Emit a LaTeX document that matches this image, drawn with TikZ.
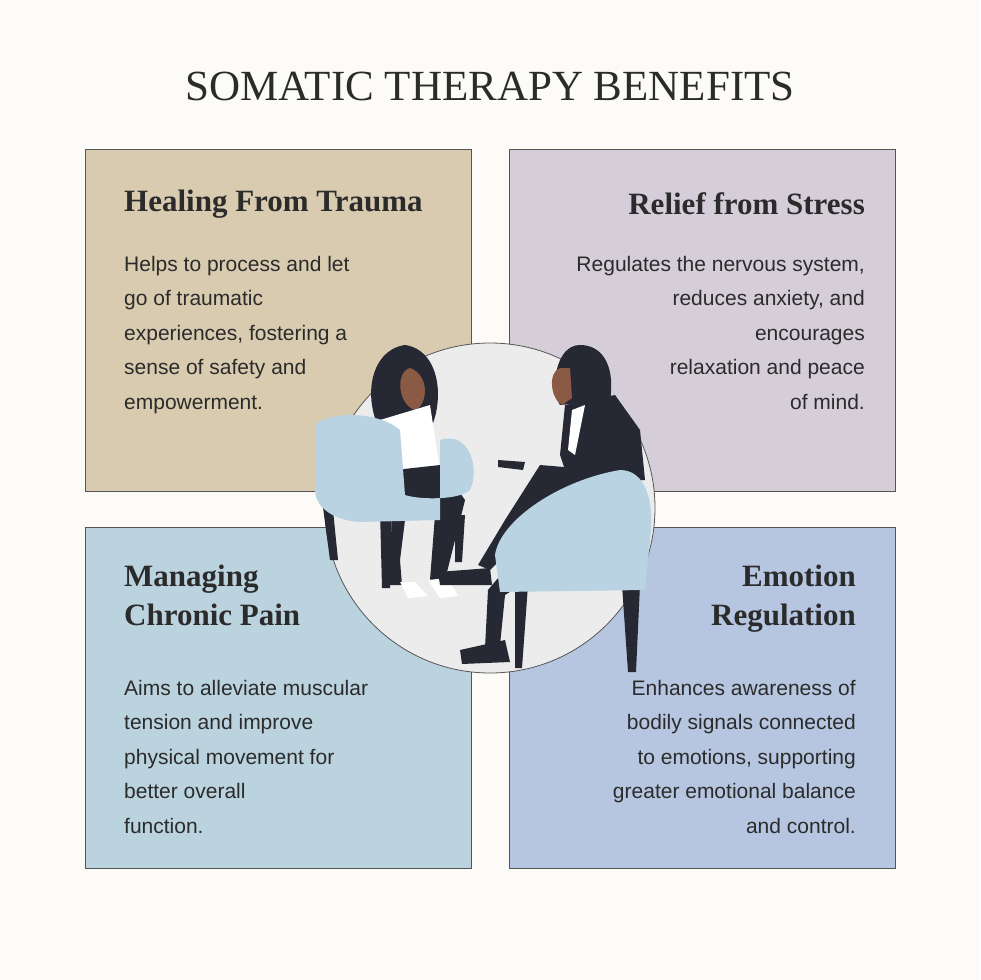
\documentclass[tikz,border=0pt]{standalone}
\usepackage{fontspec}
\setmainfont{Liberation Serif}
\newfontfamily\bodyfont{Liberation Sans}
\definecolor{bg}{HTML}{FCFBF8}
\definecolor{tan}{HTML}{D9CBB0}
\definecolor{lav}{HTML}{D5CED8}
\definecolor{sky}{HTML}{BAD3DF}
\definecolor{peri}{HTML}{B6C6E0}
\definecolor{ink}{HTML}{2B2B2B}
\definecolor{chair}{HTML}{B9D3E3}
\definecolor{dark}{HTML}{262833}
\definecolor{skin}{HTML}{8A5A44}
\tikzset{
 card/.style={draw=ink!80,line width=0.8pt},
 head/.style={font=\fontsize{31}{37}\selectfont\bfseries,text=ink,inner sep=0pt},
 body/.style={font=\bodyfont\fontsize{21}{34.5}\selectfont,text=ink,inner sep=0pt},
}
\begin{document}
\begin{tikzpicture}[x=1pt,y=-1pt]
\fill[bg] (0,0) rectangle (980,980);
\useasboundingbox (0,0) rectangle (980,980);
\node[font=\fontsize{43}{50}\selectfont,text=ink] (title) at (490,86) {SOMATIC THERAPY BENEFITS};
\node[card,fill=tan,minimum width=386,minimum height=342,anchor=north west] (b1) at (85,149) {};
\node[card,fill=lav,minimum width=386,minimum height=342,anchor=north west] (b2) at (509,149) {};
\node[card,fill=sky,minimum width=386,minimum height=341,anchor=north west] (b3) at (85,527) {};
\node[card,fill=peri,minimum width=386,minimum height=341,anchor=north west] (b4) at (509,527) {};
\node[head,anchor=west] (h1) at (124,204) {Healing From Trauma};
\node[head,anchor=east] (h2) at (865,204) {Relief from Stress};
\node[head,anchor=north west,align=left,font=\fontsize{31}{39}\selectfont\bfseries] (h3) at (124,565) {Managing\\Chronic Pain};
\node[head,anchor=north east,align=right,font=\fontsize{31}{39}\selectfont\bfseries] (h4) at (856,565) {Emotion\\Regulation};
\node[body,anchor=north west,align=left] (t1) at (124,256) {Helps to process and let\\go of traumatic\\experiences, fostering a\\sense of safety and\\empowerment.};
\node[body,anchor=north east,align=right] (t2) at (865,256) {Regulates the nervous system,\\reduces anxiety, and\\encourages\\relaxation and peace\\of mind.};
\node[body,anchor=north west,align=left] (t3) at (124,680) {Aims to alleviate muscular\\tension and improve\\physical movement for\\better overall\\function.};
\node[body,anchor=north east,align=right] (t4) at (856,680) {Enhances awareness of\\bodily signals connected\\to emotions, supporting\\greater emotional balance\\and control.};
% circle
\node[circle,draw=ink!80,line width=0.8pt,fill=gray!15,minimum size=330] (c) at (490,508) {};
% left chair legs
\fill[dark] (322,500)--(332,500)--(338,560)--(330,560)--cycle;
\fill[dark] (380,510)--(392,510)--(390,588)--(382,588)--cycle;
\fill[dark] (455,515)--(465,515)--(462,562)--(455,562)--cycle;
% left woman
\fill[dark] (405,345) .. controls (370,350) and (360,400) .. (385,440) -- (430,430) .. controls (445,400) and (440,350) .. (405,345);
\fill[skin] (410,368) .. controls (395,372) and (398,405) .. (415,410) .. controls (428,405) and (430,375) .. (410,368);
\fill[white] (380,420)--(430,405)--(440,470)--(395,480)--cycle;
\fill[dark] (395,470)--(440,465)--(465,500)--(445,580)--(430,580)--(435,515)--(405,520)--(400,560)--(402,585)--(388,585)--cycle;
\fill[white] (428,580)--(448,578)--(458,596)--(440,598)--cycle;
\fill[white] (400,582)--(415,582)--(428,596)--(408,598)--cycle;
% left chair
\fill[chair] (315,425) .. controls (330,410) and (380,412) .. (400,430) -- (405,495) .. controls (420,500) and (460,500) .. (470,490) .. controls (480,470) and (470,430) .. (440,440) -- (440,520) -- (360,522) .. controls (330,520) and (315,505) .. (315,490) -- cycle;
% right chair legs
\fill[dark] (515,585)--(528,585)--(522,668)--(515,668)--cycle;
\fill[dark] (622,585)--(640,585)--(636,672)--(628,672)--cycle;
% right woman
\fill[dark] (580,345) .. controls (555,345) and (550,390) .. (560,405) -- (610,400) .. controls (615,370) and (605,345) .. (580,345);
\fill[skin] (560,368) .. controls (548,372) and (550,398) .. (562,405) -- (572,398) -- (570,368) -- cycle;
\fill[dark] (565,405)--(615,395)--(640,430)--(645,480)--(570,485)--(560,455)--cycle;
\fill[white] (572,410)--(585,405)--(575,455)--(568,450)--cycle;
\fill[dark] (540,465)--(600,470)--(560,500)--(520,540)--(490,570)--(478,565)--(505,520)--cycle;
\fill[dark] (560,480)--(610,480)--(560,560)--(505,595)--(500,645)--(485,648)--(488,590)--(530,540)--cycle;
\fill[dark] (438,572)--(490,568)--(492,585)--(440,585)--cycle;
\fill[dark] (460,650)--(505,640)--(510,662)--(462,664)--cycle;
\fill[dark] (498,460)--(525,462)--(523,470)--(498,467)--cycle;
% right chair
\fill[chair] (495,555) .. controls (500,520) and (560,480) .. (620,470) .. controls (645,470) and (655,500) .. (650,540) -- (645,590) -- (500,592) -- cycle;
\end{tikzpicture}
\end{document}
